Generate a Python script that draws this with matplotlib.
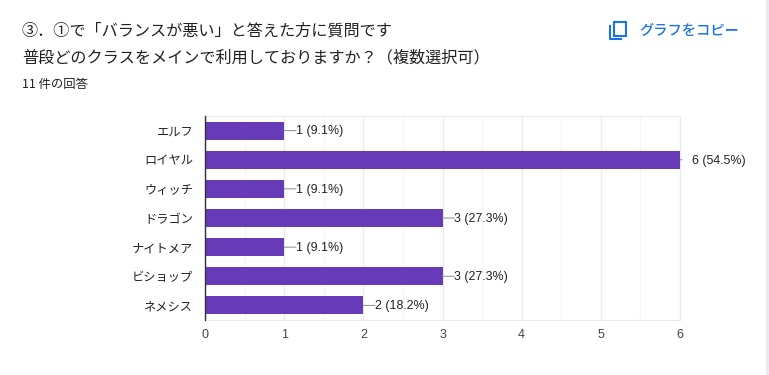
import matplotlib
matplotlib.use('Agg')
from matplotlib import pyplot as plt
from matplotlib.patches import FancyBboxPatch, Rectangle

plt.rcParams['font.family'] = ['Noto Sans CJK JP', 'DejaVu Sans']

#the chart data
classes = ['エルフ', 'ロイヤル', 'ウィッチ', 'ドラゴン', 'ナイトメア', 'ビショップ', 'ネメシス']
counts = [1, 6, 1, 3, 1, 3, 2]
percents = ['9.1', '54.5', '9.1', '27.3', '9.1', '27.3', '18.2']
xticks = [0, 1, 2, 3, 4, 5, 6]
minor_xticks = [0.5, 1.5, 2.5, 3.5, 4.5, 5.5]

W = 769
H = 375
purple = '#673ab7'
blue = '#1a73e8'

fig = plt.figure(figsize=(W/100, H/100), dpi=100, facecolor='#ede7f6')

#overlay in pixel coordinates for the card and the header
bg = fig.add_axes([0, 0, 1, 1], zorder=0)
bg.set_xlim(0, W)
bg.set_ylim(H, 0)
bg.axis('off')
bg.add_patch(FancyBboxPatch((-20, -20), 786, 430, boxstyle='round,pad=0,rounding_size=10',
                            fc='white', ec='none'))

bg.text(22, 31.5, '③．①で「バランスが悪い」と答えた方に質問です', fontsize=11.65, color='#202124', va='center')
bg.text(22, 57.5, '普段どのクラスをメインで利用しておりますか？（複数選択可）', fontsize=11.65, color='#202124', va='center')
bg.text(22, 84.5, '11 件の回答', fontsize=8.9, color='#202124', va='center')
bg.text(639, 30.5, 'グラフをコピー', fontsize=10.3, color=blue, va='center', fontweight='medium')

#copy icon
bg.add_patch(Rectangle((614, 21.5), 11.5, 14, fc='none', ec=blue, lw=1.5))
bg.plot([610, 610, 622], [25, 39, 39], color=blue, lw=1.5, solid_capstyle='butt')

#the bar chart
ax = fig.add_axes([205/W, 1-320/H, 475/W, 204/H], zorder=1)
ax.patch.set_alpha(0)
ypos = list(range(len(classes)))
ax.barh(ypos, counts, height=0.62, color=purple, zorder=3)
ax.set_xlim(0, 6)
ax.set_ylim(len(classes)-0.5, -0.5)

ax.set_yticks(ypos)
ax.set_yticklabels(classes, fontsize=8.8, color='#222222')
ax.set_xticks(xticks)
ax.set_xticklabels([str(t) for t in xticks], fontsize=9, color='#444444', family=['Liberation Sans'])
ax.set_xticks(minor_xticks, minor=True)
ax.tick_params(axis='both', which='both', length=0)
ax.tick_params(axis='y', pad=8.5)
ax.tick_params(axis='x', pad=6.5)
ax.grid(axis='x', which='major', color='#ebebeb', lw=1, zorder=0)
ax.grid(axis='x', which='minor', color='#f5f5f5', lw=1, zorder=0)

for s in ['top', 'right', 'bottom']:
    ax.spines[s].set_color('#ebebeb')
ax.spines['left'].set_color('#333333')
ax.spines['left'].set_linewidth(1.0)
ax.spines['left'].set_zorder(5)

#value labels with their small leader lines, the longest bar only gets a stub
for y, c, p in zip(ypos, counts, percents):
    leader = 1.5 if c == max(counts) else 8.5
    ax.annotate('', xy=(c, y), xytext=(leader, 0), textcoords='offset points',
                arrowprops=dict(arrowstyle='-', color='#999999', lw=0.8, shrinkA=0, shrinkB=0), zorder=4, annotation_clip=False)
    ax.annotate(f'{c} ({p}%)', xy=(c, y), xytext=(8.6, -0.6), textcoords='offset points', va='center',
                fontsize=8.9, color='#222222', family=['Liberation Sans'], annotation_clip=False)

fig.savefig('out.png', dpi=100, facecolor=fig.get_facecolor())
